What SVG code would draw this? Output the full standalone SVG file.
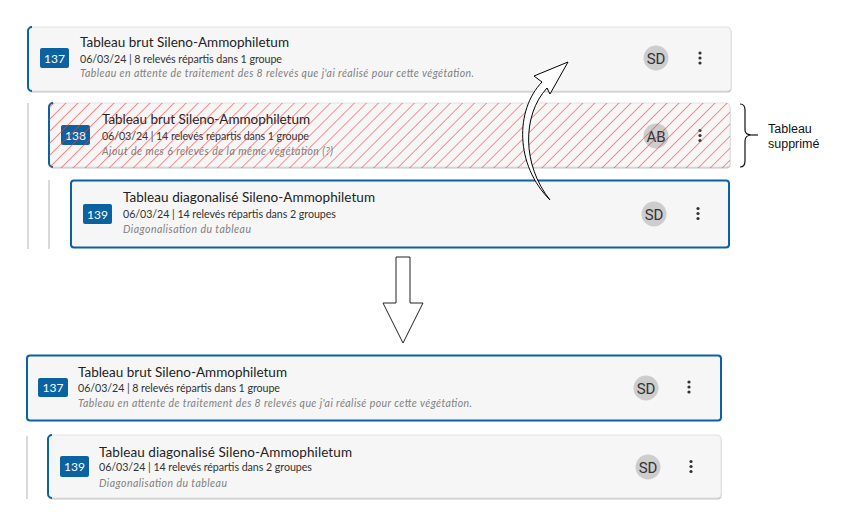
<svg xmlns="http://www.w3.org/2000/svg" width="846" height="531" viewBox="0 0 846 531">
<style>
.card{fill:#f6f6f6;stroke:#e2e2e2;stroke-width:1}
.shadow{fill:#c4c4c4}
.blueleft{fill:none;stroke:#0b62a0;stroke-width:2}
.bluebox{fill:#f6f6f6;stroke:#0b62a0;stroke-width:2}
.badge{fill:#0b62a0}
.badgetxt{font-family:Lato,"Noto Sans",sans-serif;font-size:12px;fill:#fff;text-anchor:middle}
.title{font-family:Lato,"Noto Sans",sans-serif;font-size:13.5px;fill:#222}
.sub{font-family:Lato,"Noto Sans",sans-serif;font-size:10.7px;fill:#333}
.desc{font-family:Lato,"Noto Sans",sans-serif;font-size:10.5px;font-style:italic;fill:#808080}
.av{fill:#cdcdcd}
.avtxt{font-family:Roboto,"DejaVu Sans",sans-serif;font-size:15px;fill:#333;text-anchor:middle}
.dot{fill:#333}
.vline{stroke:#cccccc;stroke-width:1.5}
.note{font-family:"Liberation Sans",Arial,sans-serif;font-size:12.5px;fill:#111}
</style>
<defs>
<pattern id="hatch" patternUnits="userSpaceOnUse" width="8.5" height="8.5" patternTransform="rotate(45)">
<line x1="0" y1="0" x2="0" y2="8.5" stroke="#f53a3a" stroke-width="1.1"/>
</pattern>
</defs>

<g id="tree-lines">
<line class="vline" x1="28" y1="103" x2="28" y2="249"/>
<line class="vline" x1="49" y1="180" x2="49" y2="249"/>
<line class="vline" x1="27" y1="436" x2="27" y2="499"/>
</g>

<g id="card-137-top">
<rect class="shadow" x="28.5" y="28.5" width="703" height="64" rx="4"/>
<rect class="card" x="28" y="27" width="703" height="64" rx="4"/>
<path class="blueleft" d="M32,27 A4,4 0 0 0 28,31 V87 A4,4 0 0 0 32,91"/>
<rect class="badge" x="40" y="48" width="29" height="20" rx="2"/>
<text class="badgetxt" x="54.5" y="62.5">137</text>
<text class="title" x="80" y="47" textLength="209" lengthAdjust="spacing">Tableau brut Sileno-Ammophiletum</text>
<text class="sub" x="80" y="63" textLength="202" lengthAdjust="spacing">06/03/24 | 8 relevés répartis dans 1 groupe</text>
<text class="desc" x="80" y="77" textLength="394" lengthAdjust="spacing">Tableau en attente de traitement des 8 relevés que j'ai réalisé pour cette végétation.</text>
<circle class="av" cx="656" cy="58" r="12.5"/>
<text class="avtxt" x="656" y="63.5">SD</text>
<circle class="dot" cx="700" cy="53" r="1.6"/>
<circle class="dot" cx="700" cy="58" r="1.6"/>
<circle class="dot" cx="700" cy="63" r="1.6"/>
</g>

<g id="card-138-deleted">
<rect class="shadow" x="49.5" y="104.5" width="681" height="64" rx="4"/>
<rect class="card" x="49" y="103" width="681" height="64" rx="4"/>
<path class="blueleft" d="M53,103 A4,4 0 0 0 49,107 V163 A4,4 0 0 0 53,167"/>
<rect class="badge" x="61" y="125" width="29" height="20" rx="2"/>
<text class="badgetxt" x="75.5" y="139.5">138</text>
<text class="title" x="102" y="124" textLength="208" lengthAdjust="spacing">Tableau brut Sileno-Ammophiletum</text>
<text class="sub" x="102" y="140" textLength="207" lengthAdjust="spacing">06/03/24 | 14 relevés répartis dans 1 groupe</text>
<text class="desc" x="102" y="155" textLength="231" lengthAdjust="spacing">Ajout de mes 6 relevés de la même végétation (?)</text>
<circle class="av" cx="656" cy="136" r="12.5"/>
<text class="avtxt" x="656" y="141.5">AB</text>
<circle class="dot" cx="700" cy="130.5" r="1.6"/>
<circle class="dot" cx="700" cy="135.5" r="1.6"/>
<circle class="dot" cx="700" cy="140.5" r="1.6"/>
<rect x="49" y="103" width="681" height="65" rx="4" fill="url(#hatch)"/>
</g>

<g id="card-139-top">
<rect class="bluebox" x="71" y="180.5" width="658" height="67" rx="3"/>
<rect class="badge" x="83" y="204" width="29" height="20" rx="2"/>
<text class="badgetxt" x="97.5" y="218.5">139</text>
<text class="title" x="123" y="202" textLength="252" lengthAdjust="spacing">Tableau diagonalisé Sileno-Ammophiletum</text>
<text class="sub" x="123" y="218" textLength="213" lengthAdjust="spacing">06/03/24 | 14 relevés répartis dans 2 groupes</text>
<text class="desc" x="123" y="233" textLength="128" lengthAdjust="spacing">Diagonalisation du tableau</text>
<circle class="av" cx="654" cy="214" r="12.5"/>
<text class="avtxt" x="654" y="219.5">SD</text>
<circle class="dot" cx="698" cy="208.5" r="1.6"/>
<circle class="dot" cx="698" cy="213.5" r="1.6"/>
<circle class="dot" cx="698" cy="218.5" r="1.6"/>
</g>

<g id="brace-note">
<path d="M740,104 Q745,104 745,110 V130 Q745,135 752,135 Q745,135 745,141 V161 Q745,167 740,167" fill="none" stroke="#111" stroke-width="1.2"/>
<line x1="752" y1="135" x2="758" y2="135" stroke="#111" stroke-width="1.2"/>
<text class="note" x="768" y="133">Tableau</text>
<text class="note" x="768" y="148">supprimé</text>
</g>

<g id="card-137-bottom">
<rect class="bluebox" x="27" y="355.5" width="694" height="65" rx="3"/>
<rect class="badge" x="38" y="378" width="30" height="19" rx="2"/>
<text class="badgetxt" x="53" y="392">137</text>
<text class="title" x="78" y="377" textLength="209" lengthAdjust="spacing">Tableau brut Sileno-Ammophiletum</text>
<text class="sub" x="78" y="392" textLength="202" lengthAdjust="spacing">06/03/24 | 8 relevés répartis dans 1 groupe</text>
<text class="desc" x="78" y="407" textLength="394" lengthAdjust="spacing">Tableau en attente de traitement des 8 relevés que j'ai réalisé pour cette végétation.</text>
<circle class="av" cx="646" cy="388" r="12.5"/>
<text class="avtxt" x="646" y="393.5">SD</text>
<circle class="dot" cx="689" cy="382" r="1.6"/>
<circle class="dot" cx="689" cy="387" r="1.6"/>
<circle class="dot" cx="689" cy="392" r="1.6"/>
</g>

<g id="card-139-bottom">
<rect class="shadow" x="48.5" y="436.5" width="673" height="63" rx="4"/>
<rect class="card" x="48" y="435" width="673" height="63" rx="4"/>
<path class="blueleft" d="M52,435 A4,4 0 0 0 48,439 V494 A4,4 0 0 0 52,498"/>
<rect class="badge" x="60" y="456" width="29" height="21" rx="2"/>
<text class="badgetxt" x="74.5" y="471">139</text>
<text class="title" x="99" y="457" textLength="253" lengthAdjust="spacing">Tableau diagonalisé Sileno-Ammophiletum</text>
<text class="sub" x="99" y="471" textLength="213" lengthAdjust="spacing">06/03/24 | 14 relevés répartis dans 2 groupes</text>
<text class="desc" x="99" y="487" textLength="128" lengthAdjust="spacing">Diagonalisation du tableau</text>
<circle class="av" cx="648" cy="467" r="12.5"/>
<text class="avtxt" x="648" y="472.5">SD</text>
<circle class="dot" cx="691" cy="461.5" r="1.6"/>
<circle class="dot" cx="691" cy="466.5" r="1.6"/>
<circle class="dot" cx="691" cy="471.5" r="1.6"/>
</g>

<g id="connectors">
<path id="curved-arrow" d="M550,200 C515,165 515,110 542,82 L534,76 L568,62 L550,94 L547,88 C522,115 522,165 550,200 Z" fill="#fff" stroke="#000" stroke-width="1"/>
<path id="down-arrow" d="M396,257 H410 V303 H423 L403,343 L383,303 H396 Z" fill="#fff" stroke="#222" stroke-width="1"/>
</g>
</svg>
